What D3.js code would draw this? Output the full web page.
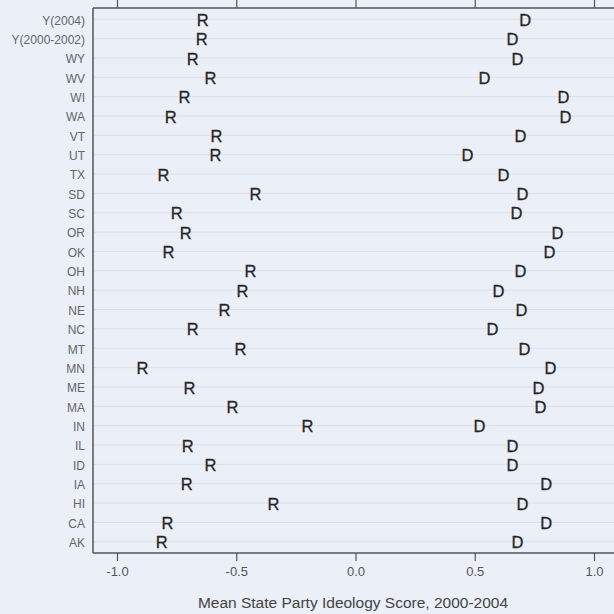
<!DOCTYPE html>
<html>
<head>
<meta charset="utf-8">
<script src="https://cdn.jsdelivr.net/npm/d3@7"></script>
<style>
html,body{margin:0;padding:0;background:#eaeff8;}
svg{display:block;font-family:"Liberation Sans",Arial,sans-serif;}
</style>
</head>
<body>
<svg id="chart" width="614" height="614"></svg>
<script>
const states = ["Y(2004)","Y(2000-2002)","WY","WV","WI","WA","VT","UT","TX","SD","SC","OR","OK","OH","NH","NE","NC","MT","MN","ME","MA","IN","IL","ID","IA","HI","CA","AK"];
const repScores = [-0.641,-0.645,-0.683,-0.608,-0.717,-0.775,-0.583,-0.587,-0.805,-0.419,-0.750,-0.712,-0.784,-0.440,-0.474,-0.549,-0.683,-0.482,-0.893,-0.696,-0.516,-0.201,-0.704,-0.608,-0.708,-0.344,-0.788,-0.813];
const demScores = [0.712,0.658,0.679,0.541,0.872,0.880,0.692,0.469,0.620,0.700,0.675,0.847,0.813,0.692,0.599,0.696,0.574,0.708,0.817,0.767,0.775,0.520,0.658,0.658,0.800,0.700,0.800,0.679];
const xTicks = [-1.0,-0.5,0.0,0.5,1.0];
const xTickLabels = ["-1.0","-0.5","0.0","0.5","1.0"];
const xTitle = "Mean State Party Ideology Score, 2000-2004";

(function(){
const svg = d3.select("#chart");
const W = 614, H = 614;
const pLeft = 93, pTop = 8, pBottom = 553, pRight = 640;

svg.append("rect").attr("width",W).attr("height",H).attr("fill","#eaeff8");

const x = d3.scaleLinear().domain([-1,1]).range([117, 594]);
const y = d3.scalePoint().domain(states).range([pTop, pBottom]).padding(0.58);

// gridlines
svg.append("g").selectAll("line").data(states).join("line")
  .attr("x1", pLeft+1).attr("x2", pRight)
  .attr("y1", d=>y(d)).attr("y2", d=>y(d))
  .attr("stroke","#d9dfe9").attr("stroke-width",1);

// bottom axis
const xAxis = d3.axisBottom(x).tickValues(xTicks).tickFormat((d,i)=>xTickLabels[i]).tickSize(8).tickPadding(6);
const gx = svg.append("g").attr("transform",`translate(0,${pBottom})`).call(xAxis);
gx.select(".domain").remove();
gx.selectAll(".tick line").attr("stroke","#555").attr("stroke-width",1.2);
gx.selectAll(".tick text").attr("fill","#555").attr("font-size",13).attr("font-family","'Liberation Sans',Arial,sans-serif");
svg.append("line").attr("x1",pLeft).attr("x2",pRight).attr("y1",pBottom).attr("y2",pBottom).attr("stroke","#555").attr("stroke-width",1.5);

// top axis (ticks only)
const xTop = d3.axisTop(x).tickValues(xTicks).tickFormat("").tickSize(8);
const gt = svg.append("g").attr("transform",`translate(0,${pTop})`).call(xTop);
gt.select(".domain").remove();
gt.selectAll(".tick line").attr("stroke","#555").attr("stroke-width",1.2);
svg.append("line").attr("x1",pLeft).attr("x2",pRight).attr("y1",pTop).attr("y2",pTop).attr("stroke","#555").attr("stroke-width",1.5);

// left axis
const yAxis = d3.axisLeft(y).tickSize(0).tickPadding(8);
const gy = svg.append("g").attr("transform",`translate(${pLeft},0)`).call(yAxis);
gy.select(".domain").remove();
gy.selectAll(".tick text").attr("fill","#666").attr("font-size",12).attr("font-family","'Liberation Sans',Arial,sans-serif").attr("dy","0.4em");
svg.append("line").attr("x1",pLeft).attr("x2",pLeft).attr("y1",pTop).attr("y2",pBottom).attr("stroke","#555").attr("stroke-width",1.5);

// markers
svg.append("g").selectAll("text").data(states).join("text")
  .attr("x",(d,i)=>x(repScores[i])).attr("y",d=>y(d)).attr("dy","0.4em")
  .attr("text-anchor","middle").attr("font-size",16.5).attr("fill","#262626")
  .attr("stroke","#262626").attr("stroke-width",0.3)
  .text("R");
svg.append("g").selectAll("text").data(states).join("text")
  .attr("x",(d,i)=>x(demScores[i])).attr("y",d=>y(d)).attr("dy","0.4em")
  .attr("text-anchor","middle").attr("font-size",16.5).attr("fill","#262626")
  .attr("stroke","#262626").attr("stroke-width",0.3)
  .text("D");

// title
svg.append("text").attr("x",353).attr("y",608).attr("text-anchor","middle")
  .attr("font-size",15.5).attr("fill","#444").text(xTitle);
})();
</script>
</body>
</html>
